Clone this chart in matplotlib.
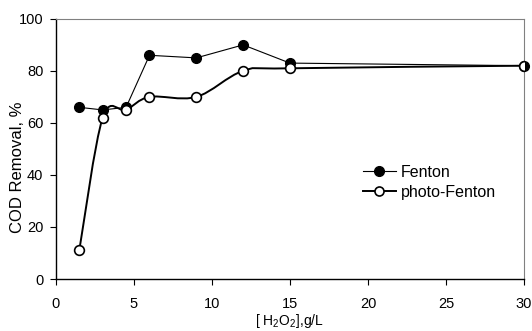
import matplotlib
matplotlib.use('agg')
import matplotlib.pyplot as plt
from matplotlib.path import Path
from matplotlib.patches import PathPatch
from matplotlib.lines import Line2D
import numpy as np

plt.rcParams["font.family"] = ["Liberation Sans", "DejaVu Sans"]
plt.rcParams.update({'font.size': 10.5, 'mathtext.fontset': 'custom',
                     'mathtext.rm': 'Liberation Sans', 'mathtext.it': 'Liberation Sans'})

# Data
h2o2 = [1.5, 3, 4.5, 6, 9, 12, 15, 30]
fenton = [66, 65, 66, 86, 85, 90, 83, 82]
photo_fenton = [11, 62, 65, 70, 70, 80, 81, 82]


def smooth_path(x, y):
    """
    Catmull-Rom style bezier through the points (like the smoothed line of the original)
    """
    x = np.asarray(x, float)
    y = np.asarray(y, float)
    verts = [(x[0], y[0])]
    codes = [Path.MOVETO]
    n = len(x)
    for i in range(n - 1):
        x0, y0 = (x[i - 1], y[i - 1]) if i > 0 else (x[i], y[i])
        x3, y3 = (x[i + 2], y[i + 2]) if i + 2 < n else (x[i + 1], y[i + 1])
        c1 = (x[i] + (x[i + 1] - x0) / 6.0, y[i] + (y[i + 1] - y0) / 6.0)
        c2 = (x[i + 1] - (x3 - x[i]) / 6.0, y[i + 1] - (y3 - y[i]) / 6.0)
        verts += [c1, c2, (x[i + 1], y[i + 1])]
        codes += [Path.CURVE4] * 3
    return Path(verts, codes)


fig = plt.figure(figsize=(5.32, 3.31), dpi=100)
ax = fig.add_axes([0.105, 0.157, 0.88, 0.786])

ax.plot(h2o2, fenton, color='black', linewidth=0.8, marker='o', markersize=7,
        markerfacecolor='black', markeredgecolor='black', zorder=3, clip_on=False)

ax.add_patch(PathPatch(smooth_path(h2o2, photo_fenton), facecolor='none',
                       edgecolor='black', linewidth=1.4, zorder=2))
ax.plot(h2o2, photo_fenton, linestyle='none', marker='o', markersize=7,
        markerfacecolor='white', markeredgecolor='black', markeredgewidth=1.2, zorder=4)

ax.set_xlim(0, 30)
ax.set_ylim(0, 100)
ax.set_xticks(range(0, 31, 5))
ax.set_yticks(range(0, 101, 20))
ax.tick_params(direction='out', length=4, width=0.8, top=False, right=False)
ax.tick_params(axis='x', pad=9)
ax.tick_params(axis='y', pad=5)
for side in ['top', 'right']:
    ax.spines[side].set_color('#808080')
    ax.spines[side].set_linewidth(0.8)
for side in ['left', 'bottom']:
    ax.spines[side].set_linewidth(1.0)

ax.set_xlabel('[ H$_2$O$_2$],g/L', fontsize=10, labelpad=1)
fig.text(17.5 / 532, 1 - 167.5 / 331, 'COD Removal, %', fontsize=12,
         rotation=90, ha='center', va='center')

handles = [Line2D([], [], color='black', linewidth=0.8, marker='o', markersize=7,
                  markerfacecolor='black'),
           Line2D([], [], color='black', linewidth=1.4, marker='o', markersize=6.5,
                  markerfacecolor='white', markeredgewidth=1.2)]
ax.legend(handles, ['Fenton', 'photo-Fenton'], loc='upper left', fontsize=11.5,
          bbox_to_anchor=(0.656, 0.438), frameon=False, handlelength=2.06,
          handletextpad=0.3, labelspacing=0.3, borderpad=0, borderaxespad=0)

fig.savefig('out.png', dpi=100)
